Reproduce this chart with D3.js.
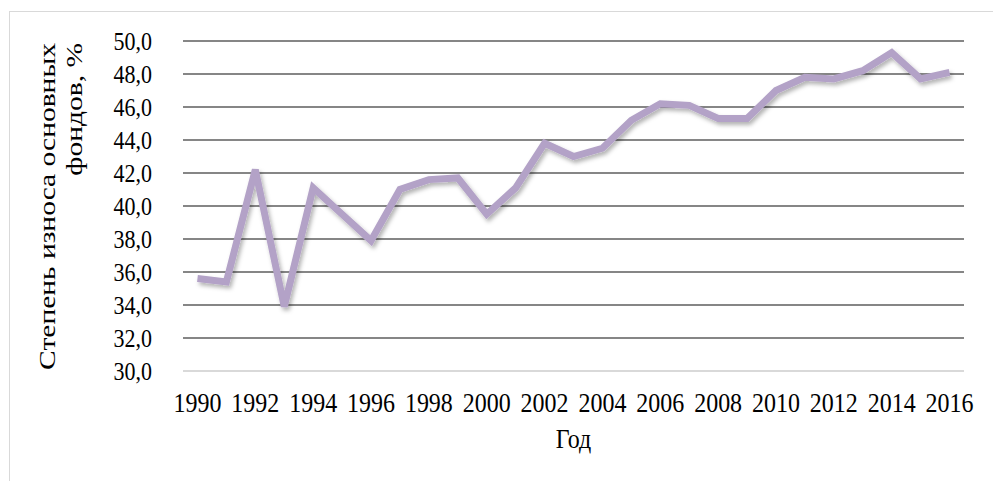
<!DOCTYPE html>
<html>
<head>
<meta charset="utf-8">
<script src="https://cdn.jsdelivr.net/npm/d3@7"></script>
</head>
<body style="margin:0; background:#fff">
<svg id="chart" width="993" height="481"></svg>
<script>
let years = [1990, 1991, 1992, 1993, 1994, 1995, 1996, 1997, 1998, 1999,
    2000, 2001, 2002, 2003, 2004, 2005, 2006, 2007, 2008, 2009,
    2010, 2011, 2012, 2013, 2014, 2015, 2016];
let wear = [35.6, 35.4, 42.2, 33.9, 41.1, 39.5, 37.9, 41.0, 41.6, 41.7,
    39.5, 41.1, 43.8, 43.0, 43.5, 45.2, 46.2, 46.1, 45.3, 45.3,
    47.0, 47.8, 47.7, 48.2, 49.3, 47.7, 48.1];
let yTicks = [30, 32, 34, 36, 38, 40, 42, 44, 46, 48, 50];
let xTickYears = years.filter(d => d % 2 === 0);

let serif = "Liberation Serif";
let stretch = 1.18; // the source picture is a bit taller than wide

let svgWidth = 993;
let svgHeight = 481;

let margin = {
    top: 41,
    right: 29,
    bottom: 110,
    left: 183
};

let width = svgWidth - margin.left - margin.right;
let height = svgHeight - margin.top - margin.bottom;

let svg = d3.select("#chart")
    .attr("font-family", serif);

// drop shadow under the line
let defs = svg.append("defs");
defs.append("filter")
    .attr("id", "shadow")
    .attr("x", "-5%").attr("y", "-10%")
    .attr("width", "110%").attr("height", "120%")
    .append("feDropShadow")
    .attr("dx", 2)
    .attr("dy", 3)
    .attr("stdDeviation", 2)
    .attr("flood-color", "#000")
    .attr("flood-opacity", 0.3);

// outer chart border
svg.append("rect")
    .attr("x", 9.5)
    .attr("y", 11.5)
    .attr("width", svgWidth)
    .attr("height", svgHeight)
    .attr("fill", "none")
    .attr("stroke", "#d9d9d9");

let chartGroup = svg.append("g")
    .attr("transform", `translate(${margin.left}, ${margin.top})`);

let xScale = d3.scaleBand()
    .domain(years)
    .range([0, width]);

let yScale = d3.scaleLinear()
    .domain([30, 50])
    .range([height, 0]);

// gridlines
chartGroup.append("g")
    .selectAll("line")
    .data(yTicks)
    .enter()
    .append("line")
    .attr("x1", 0)
    .attr("x2", width)
    .attr("y1", d => yScale(d))
    .attr("y2", d => yScale(d))
    .attr("stroke", d => d === 30 ? "#d9d9d9" : "#868686")
    .attr("stroke-width", 2);

// y axis labels
let leftAxis = d3.axisLeft(yScale)
    .tickValues(yTicks)
    .tickSize(0)
    .tickPadding(31)
    .tickFormat(d => d3.format(".1f")(d).replace(".", ","));

let yAxis = chartGroup.append("g")
    .call(leftAxis)
    .attr("font-family", serif)
    .attr("font-size", 22);
yAxis.select(".domain").remove();
yAxis.selectAll("text")
    .attr("fill", "#000")
    .attr("transform", `scale(1, ${stretch})`);

// x axis labels
let bottomAxis = d3.axisBottom(xScale)
    .tickValues(xTickYears)
    .tickSize(0)
    .tickPadding(18);

let xAxis = chartGroup.append("g")
    .attr("transform", `translate(0, ${height})`)
    .call(bottomAxis)
    .attr("font-family", serif)
    .attr("font-size", 24);
xAxis.select(".domain").remove();
xAxis.selectAll("text")
    .attr("fill", "#000")
    .attr("transform", `scale(1, ${stretch})`);

// the line
let line = d3.line()
    .x((d, i) => xScale(years[i]) + xScale.bandwidth() / 2)
    .y(d => yScale(d));

chartGroup.append("path")
    .datum(wear)
    .attr("d", line)
    .attr("fill", "none")
    .attr("stroke", "#b3a2c7")
    .attr("stroke-width", 7)
    .attr("stroke-linejoin", "miter")
    .attr("stroke-miterlimit", 3)
    .attr("filter", "url(#shadow)");

// axis titles
svg.append("text")
    .attr("transform", `translate(${width / 2 + margin.left}, 448) scale(1, ${stretch})`)
    .attr("text-anchor", "middle")
    .attr("font-size", 24)
    .text("Год");

let yTitle = svg.append("g")
    .attr("transform", "translate(0, 43) rotate(-90) scale(1.23, 1)")
    .attr("text-anchor", "end")
    .attr("font-size", 24);

yTitle.append("text")
    .attr("x", 0)
    .attr("y", 55)
    .text("Степень износа основных");

yTitle.append("text")
    .attr("x", 0)
    .attr("y", 82)
    .text("фондов, %");
</script>
</body>
</html>
